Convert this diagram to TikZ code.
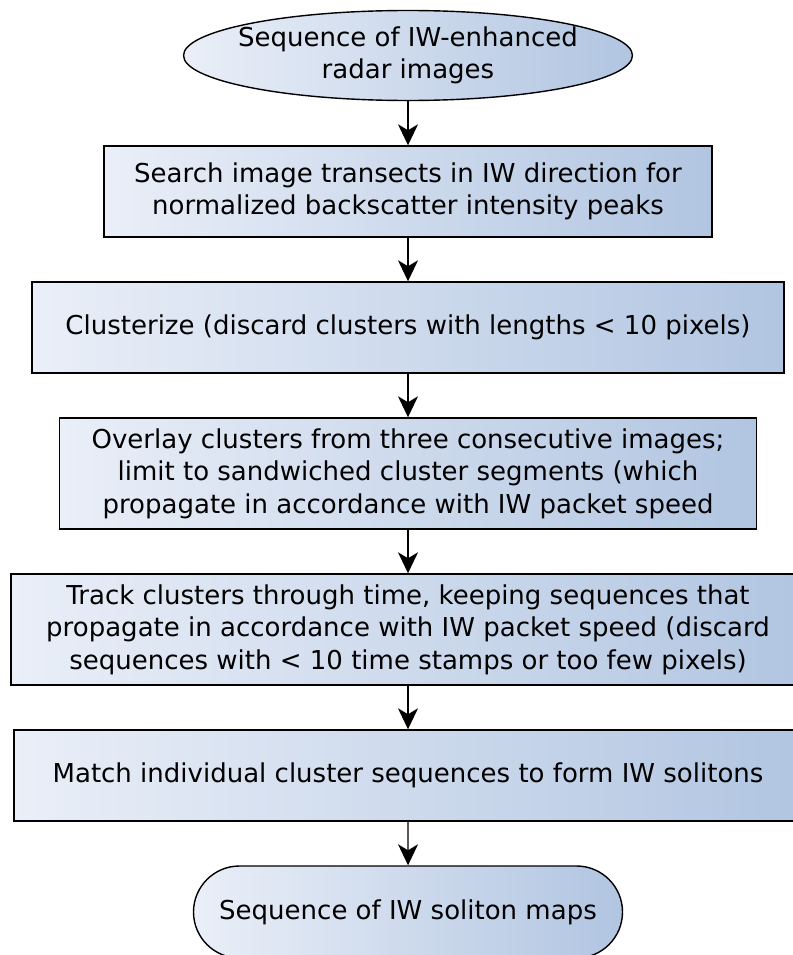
\documentclass[tikz,border=0pt]{standalone}
\usepackage{fontspec}
\setmainfont{DejaVu Sans}
\usepackage{tikz}
\usetikzlibrary{shapes.geometric,shapes.misc,arrows.meta,positioning}
\definecolor{shadeL}{HTML}{EAEFF8}
\definecolor{shadeR}{HTML}{B1C5E1}
\tikzset{
  stepbox/.style={draw=black, line width=1.4pt, left color=shadeL, right color=shadeR,
    align=center, inner sep=0pt, font=\fontsize{26}{32.5}\selectfont},
  flowarrow/.style={-{Stealth[length=21pt,width=20pt,inset=6pt]}, line width=1.4pt}
}

\begin{document}
\begin{tikzpicture}[x=1pt,y=1pt]
            % Frame
            \useasboundingbox (0,0) rectangle (792,-955);
            % Define steps
            \node[stepbox, ellipse, inner xsep=-20pt, minimum width=449pt, minimum height=90pt] (input) at (408,-55.5)
              {Sequence of IW-enhanced\\radar images};
            \node[stepbox, rectangle, minimum width=608pt, minimum height=91pt] (search) at (408,-191.5)
              {Search image transects in IW direction for\\normalized backscatter intensity peaks};
            \node[stepbox, rectangle, minimum width=752pt, minimum height=91pt] (cluster) at (408,-327.5)
              {Clusterize (discard clusters with lengths < 10 pixels)};
            \node[stepbox, rectangle, minimum width=697pt, minimum height=111pt] (overlay) at (408,-473.5)
              {Overlay clusters from three consecutive images;\\limit to sandwiched cluster segments (which\\propagate in accordance with IW packet speed};
            \node[stepbox, rectangle, minimum width=794pt, minimum height=111pt] (track) at (408,-629.5)
              {Track clusters through time, keeping sequences that\\propagate in accordance with IW packet speed (discard\\sequences with < 10 time stamps or too few pixels)};
            \node[stepbox, rectangle, minimum width=788pt, minimum height=91pt] (match) at (408,-775.5)
              {Match individual cluster sequences to form IW solitons};
            \node[stepbox, rounded rectangle, minimum width=429pt, minimum height=92pt] (output) at (408,-912)
              {Sequence of IW soliton maps};
            % Connect steps
            \draw[flowarrow] (input) -- (search);
            \draw[flowarrow] (search) -- (cluster);
            \draw[flowarrow] (cluster) -- (overlay);
            \draw[flowarrow] (overlay) -- (track);
            \draw[flowarrow] (track) -- (match);
            \draw[flowarrow] (match) -- (output);
          \end{tikzpicture}
\end{document}
